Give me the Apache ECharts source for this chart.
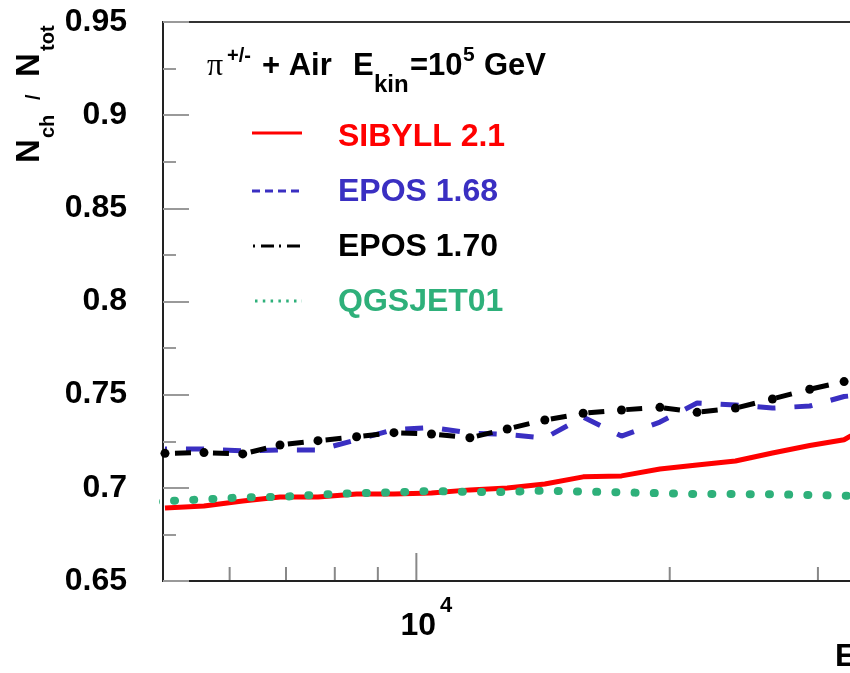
<!DOCTYPE html>
<html>
<head>
<meta charset="utf-8">
<script src="https://cdn.jsdelivr.net/npm/echarts@6/dist/echarts.min.js"></script>
<style>
  html, body { margin: 0; padding: 0; background: #ffffff; }
  #chart { width: 850px; height: 673px; }
</style>
</head>
<body>
<div id="chart"></div>
<script>
// Energy bins (GeV) shared by the model curves
const energy = [5027, 5593, 6219, 6886, 7640, 8492, 9406, 10423, 11577, 12822,
                14212, 15783, 17529, 19472, 21555, 23940, 26491, 29337, 32226, 35716];
// QGSJET01 starts slightly below the first bin
const qgsjetEnergy = [4890, 5593, 6219, 6886, 7640, 8492, 9406, 10423, 11577, 12822,
                      14212, 15783, 17529, 19472, 21555, 23940, 26491, 29337, 32226, 35716];

// N_ch / N_tot per model
const sibyll21 = [0.6892, 0.6903, 0.6929, 0.6951, 0.6951, 0.6967, 0.6967, 0.6972, 0.6989, 0.6999,
                  0.7021, 0.7059, 0.7064, 0.7101, 0.7123, 0.7144, 0.7187, 0.7227, 0.7258, 0.7370];
const epos168  = [0.7208, 0.7208, 0.7198, 0.7203, 0.7203, 0.7257, 0.7313, 0.7324, 0.7294, 0.7286,
                  0.7267, 0.7380, 0.7278, 0.7353, 0.7455, 0.7445, 0.7428, 0.7439, 0.7490, 0.7510];
const epos170  = [0.7185, 0.7189, 0.7182, 0.7230, 0.7253, 0.7274, 0.7296, 0.7289, 0.7269, 0.7316,
                  0.7364, 0.7400, 0.7418, 0.7432, 0.7405, 0.7428, 0.7477, 0.7529, 0.7570, 0.7600];
const qgsjet01 = [0.6926, 0.6938, 0.6949, 0.6951, 0.6963, 0.6971, 0.6976, 0.6983, 0.6978, 0.6978,
                  0.6985, 0.6980, 0.6976, 0.6971, 0.6967, 0.6967, 0.6965, 0.6962, 0.6958, 0.6956];

const seriesNames = ['SIBYLL 2.1', 'EPOS 1.68', 'EPOS 1.70', 'QGSJET01'];

// Axis ranges and tick marks
const xRange = [5000, 100000];
const yRange = [0.65, 0.95];
const yStep = 0.05;
const xTickMarks = [6000, 7000, 8000, 9000, 10000, 20000, 30000, 40000];
const xTickLabels = [{ value: 10000, base: '10', exp: '4' }];

const FONT = '"Liberation Sans", Arial, Helvetica, sans-serif';
const SERIF = '"Liberation Serif", "DejaVu Serif", serif';
const RED = '#ff0000', BLUE = '#3a2fc2', BLACK = '#000000', GREEN = '#2eb07a';

function pairs(xs, ys) { return xs.map((x, i) => [x, ys[i]]); }

const chart = echarts.init(document.getElementById('chart'), null, { renderer: 'canvas' });

function txt(text, x, y, size, color, opts) {
  opts = opts || {};
  return {
    type: 'text', x: x, y: y, silent: true,
    style: {
      text: text,
      fill: color || '#000',
      font: (opts.weight || 'bold') + ' ' + size + 'px ' + (opts.family || FONT),
      textAlign: opts.align || 'left',
      textVerticalAlign: 'middle'
    }
  };
}
function seg(x1, x2, y, color, dash) {
  return {
    type: 'line', silent: true,
    shape: { x1: x1, y1: y, x2: x2, y2: y },
    style: { stroke: color, lineWidth: 3, lineDash: dash || null }
  };
}

const option = {
  animation: false,
  backgroundColor: '#ffffff',
  grid: {
    left: 163, top: 22, right: -408, bottom: 92,
    show: true, borderColor: '#333', borderWidth: 2,
    backgroundColor: 'transparent',
    containLabel: false, outerBoundsMode: 'none'
  },
  xAxis: {
    type: 'log', logBase: 10, min: xRange[0], max: xRange[1],
    axisLine: { show: true, onZero: false, lineStyle: { color: '#222', width: 2 } },
    axisTick: { show: false },
    minorTick: { show: false },
    splitLine: { show: false },
    axisLabel: {
      margin: 14,
      showMinLabel: true, showMaxLabel: true,
      formatter: function (v) {
        const t = xTickLabels.find(l => Math.abs(Math.log10(v) - Math.log10(l.value)) < 1e-6);
        return t ? '{b|' + t.base + '}{s|' + t.exp + '}' : '';
      },
      rich: {
        b: { fontSize: 32, fontWeight: 'bold', fontFamily: FONT, color: '#000', padding: [0, 0, 0, 20] },
        s: { fontSize: 22, fontWeight: 'bold', fontFamily: FONT, color: '#000', padding: [0, 0, 40, 4] }
      }
    }
  },
  yAxis: {
    type: 'value', min: yRange[0], max: yRange[1], interval: yStep,
    axisLine: { show: true, onZero: false, lineStyle: { color: '#222', width: 2 } },
    axisTick: { show: true, inside: true, length: 26, lineStyle: { color: '#999', width: 2 } },
    minorTick: { show: true, splitNumber: 2, length: 13, lineStyle: { color: '#999', width: 2 } },
    splitLine: { show: false },
    minorSplitLine: { show: false },
    axisLabel: { fontSize: 32, fontWeight: 'bold', fontFamily: FONT, color: '#000', margin: 36 }
  },
  series: [
    {
      // logarithmic ticks along the energy axis
      type: 'custom', silent: true, z: 1, clip: false,
      renderItem: function (params, api) {
        const v = api.value(0);
        const p = api.coord([v, yRange[0]]);
        const lg = Math.log10(v);
        const major = Math.abs(lg - Math.round(lg)) < 1e-9;
        const len = major ? 28 : 14;
        return {
          type: 'line',
          shape: { x1: p[0], y1: p[1] - 1, x2: p[0], y2: p[1] - len },
          style: { stroke: '#888', lineWidth: 2 }
        };
      },
      data: xTickMarks.map(v => [v, yRange[0]])
    },
    {
      name: seriesNames[0], type: 'line', z: 3,
      data: pairs(energy, sibyll21),
      showSymbol: false, symbol: 'none',
      lineStyle: { color: RED, width: 5 }
    },
    {
      name: seriesNames[1], type: 'line', z: 4,
      data: pairs(energy, epos168),
      showSymbol: false, symbol: 'none',
      lineStyle: { color: BLUE, width: 5, type: [18, 19], dashOffset: 16 }
    },
    {
      name: seriesNames[2], type: 'line', z: 5,
      data: pairs(energy, epos170),
      symbol: 'circle', symbolSize: 9, showSymbol: true,
      itemStyle: { color: BLACK, borderWidth: 0 },
      lineStyle: { color: BLACK, width: 5, type: [16, 22], dashOffset: 28 }
    },
    {
      name: seriesNames[3], type: 'line', z: 6, clip: false,
      data: pairs(qgsjetEnergy, qgsjet01),
      showSymbol: false, symbol: 'none',
      lineStyle: { color: GREEN, width: 8, type: [1, 18.2], cap: 'round' }
    }
  ],
  graphic: [
    // Reaction label
    txt('\u03c0', 207, 67, 32, '#000', { weight: 'normal', family: SERIF }),
    txt('+/-', 227, 56, 20, '#000'),
    txt('+ Air', 262, 66, 31, '#000'),
    txt('E', 353, 66, 31, '#000'),
    txt('kin', 374, 85, 24, '#000'),
    txt('=10', 410, 66, 31, '#000'),
    txt('5', 463, 55, 21, '#000'),
    txt('GeV', 484, 66, 31, '#000'),
    // Legend
    seg(252, 302, 133, RED, null),
    txt(seriesNames[0], 338, 137, 32, RED),
    seg(252, 302, 191, BLUE, [8, 5]),
    txt(seriesNames[1], 338, 192, 32, BLUE),
    seg(253, 302, 246, BLACK, [2, 6, 13, 5]),
    txt(seriesNames[2], 338, 247, 32, BLACK),
    seg(255, 302, 301, GREEN, [2.5, 5.3]),
    txt(seriesNames[3], 338, 302, 32, GREEN),
    // Y axis title N_ch / N_tot
    {
      type: 'group', x: 41, y: 163, rotation: Math.PI / 2, silent: true,
      children: [
        txt('N', 0, -11.5, 33, '#000'),
        txt('ch', 25, 7, 20, '#000'),
        txt('/', 63, -7, 20, '#000'),
        txt('N', 86, -11.5, 33, '#000'),
        txt('tot', 112, 7, 20, '#000')
      ]
    },
    // X axis title (starts at the right edge)
    txt('E', 835, 657, 32, '#000')
  ]
};

chart.setOption(option);
</script>
</body>
</html>
